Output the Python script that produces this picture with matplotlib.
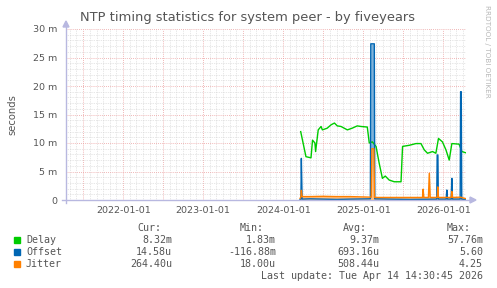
import matplotlib
matplotlib.use("Agg")
import matplotlib.pyplot as plt
import matplotlib.dates as mdates
from matplotlib.ticker import MultipleLocator, FuncFormatter
import datetime as dt

# ---------------- data (values in milliseconds) ----------------
delay_dates = ["2024-03-21", "2024-04-14", "2024-05-07", "2024-05-14", "2024-05-25", "2024-05-28",
               "2024-06-09", "2024-06-22", "2024-06-28", "2024-07-20", "2024-08-07", "2024-08-22",
               "2024-09-04", "2024-09-21", "2024-10-20", "2024-11-11", "2024-12-04", "2024-12-21",
               "2025-01-19", "2025-01-28", "2025-02-11", "2025-02-28", "2025-03-14", "2025-03-29",
               "2025-04-11", "2025-04-29", "2025-05-22", "2025-06-22", "2025-06-29", "2025-07-30",
               "2025-08-29", "2025-09-21", "2025-10-06", "2025-10-21", "2025-11-13", "2025-11-28",
               "2025-12-10", "2025-12-28", "2026-01-13", "2026-01-28", "2026-02-09", "2026-03-14",
               "2026-03-27", "2026-04-12"]
delay_vals = [12.0, 7.6, 7.4, 10.5, 10.0, 8.5,
              12.3, 12.9, 12.3, 12.6, 13.2, 13.5,
              13.0, 12.9, 12.3, 12.6, 13.0, 12.9,
              12.8, 10.0, 10.2, 9.4, 6.5, 3.8,
              4.2, 3.5, 3.2, 3.2, 9.4, 9.6,
              9.9, 9.9, 8.8, 8.2, 8.5, 8.2,
              10.8, 10.2, 8.8, 7.0, 9.9, 9.8,
              8.5, 8.3]

offset_dates = ["2024-03-18", "2024-03-22", "2024-03-24", "2024-03-27", "2024-05-01", "2024-07-01",
                "2024-09-01", "2024-11-01", "2025-02-02", "2025-02-04", "2025-02-20", "2025-02-22",
                "2025-05-01", "2025-08-01", "2025-12-02", "2025-12-04", "2025-12-07", "2025-12-09",
                "2026-01-14", "2026-01-17", "2026-01-20", "2026-02-06", "2026-02-09", "2026-02-12",
                "2026-03-19", "2026-03-21", "2026-03-24", "2026-03-26", "2026-04-12"]
offset_vals = [0.1, 0.2, 7.3, 0.15, 0.2, 0.15,
               0.1, 0.15, 0.2, 27.4, 27.4, 0.2,
               0.15, 0.1, 0.15, 7.9, 7.9, 0.15,
               0.15, 1.75, 0.15, 0.15, 3.8, 0.15,
               0.15, 19.0, 19.0, 0.15, 0.1]

jitter_dates = ["2024-03-18", "2024-03-22", "2024-03-24", "2024-03-27", "2024-05-01", "2024-07-01",
                "2024-09-01", "2024-11-01", "2025-02-06", "2025-02-09", "2025-02-18", "2025-02-21",
                "2025-05-01", "2025-08-01", "2025-09-28", "2025-10-01", "2025-10-04", "2025-10-25",
                "2025-10-29", "2025-11-02", "2025-12-04", "2025-12-07", "2025-12-10", "2026-02-06",
                "2026-02-09", "2026-02-12", "2026-03-20", "2026-04-12"]
jitter_vals = [0.3, 0.5, 1.7, 0.6, 0.6, 0.65,
               0.6, 0.6, 0.5, 9.0, 9.0, 0.45,
               0.45, 0.45, 0.45, 1.9, 0.45, 0.45,
               4.7, 0.45, 0.45, 2.3, 0.45, 0.45,
               1.5, 0.45, 0.5, 0.26]

legend_names = ["Delay", "Offset", "Jitter"]
legend_cur = ["8.32m", "14.58u", "264.40u"]
legend_min = ["1.83m", "-116.88m", "18.00u"]
legend_avg = ["9.37m", "693.16u", "508.44u"]
legend_max = ["57.76m", "5.60", "4.25"]
colors = ["#00cc00", "#0066b3", "#ff8000"]

title = "NTP timing statistics for system peer - by fiveyears"
last_update = "Last update: Tue Apr 14 14:30:45 2026"

# ---------------- figure ----------------
W, H = 497, 288
fig = plt.figure(figsize=(W / 100, H / 100), dpi=100)
fig.patch.set_facecolor("white")

x0, x1, ytop, ybot = 66, 466, 29, 200
ax = fig.add_axes([x0 / W, 1 - ybot / H, (x1 - x0) / W, (ybot - ytop) / H])
ax.set_facecolor("white")

def todates(lst):
    return [dt.datetime.strptime(s, "%Y-%m-%d") for s in lst]

start = dt.datetime(2021, 4, 14, 14, 30)
end = dt.datetime(2026, 4, 14, 14, 30)
ax.set_xlim(start, end)
ax.set_ylim(0, 30)

for s in ax.spines.values():
    s.set_visible(False)

# grid
ax.xaxis.set_major_locator(mdates.MonthLocator(bymonth=(1, 7)))
ax.xaxis.set_minor_locator(mdates.MonthLocator())
ax.yaxis.set_major_locator(MultipleLocator(5))
ax.yaxis.set_minor_locator(MultipleLocator(1))
ax.grid(which="minor", color="#d0d0d0", linestyle=(0, (1, 1.5)), linewidth=0.5)
ax.grid(which="major", color="#eca0a0", linestyle=(0, (1, 1.5)), linewidth=0.6)
ax.set_axisbelow(True)

def xfmt(x, pos):
    d = mdates.num2date(x)
    return d.strftime("%Y-%m-%d") if d.month == 1 else ""
ax.xaxis.set_major_formatter(FuncFormatter(xfmt))
ax.yaxis.set_major_formatter(FuncFormatter(lambda v, p: "0" if v == 0 else f"{int(v)} m"))
ax.tick_params(axis="both", which="both", length=0, labelsize=6.8, colors="#555555")
ax.tick_params(axis="x", pad=4)
ax.tick_params(axis="y", pad=6)

# data: fills first, then lines
od = todates(offset_dates)
jd = todates(jitter_dates)
dd = todates(delay_dates)
ax.fill_between(od, 0, offset_vals, color="#80b3da", linewidth=0, zorder=2)
ax.fill_between(jd, 0, jitter_vals, color="#ffbf80", linewidth=0, zorder=2.5)
ax.plot(dd, delay_vals, color=colors[0], linewidth=1.0, zorder=3)
ax.plot(od, offset_vals, color=colors[1], linewidth=1.0, zorder=4)
ax.plot(jd, jitter_vals, color=colors[2], linewidth=1.0, zorder=5)

# axes with arrows
axis_col = "#b8b8e0"
fig.add_artist(plt.Line2D([62 / W, 470 / W], [1 - 200 / H, 1 - 200 / H], color=axis_col, lw=1.0))
fig.add_artist(plt.Line2D([66 / W, 66 / W], [1 - 203 / H, 1 - 25 / H], color=axis_col, lw=1.0))
fig.add_artist(plt.Polygon([[470 / W, 1 - 197 / H], [476 / W, 1 - 200 / H], [470 / W, 1 - 203 / H]],
                           closed=True, color=axis_col))
fig.add_artist(plt.Polygon([[63 / W, 1 - 27 / H], [66 / W, 1 - 21 / H], [69 / W, 1 - 27 / H]],
                           closed=True, color=axis_col))

# texts
fig.text(248 / W, 1 - 18 / H, title, ha="center", va="center", fontsize=9.4, color="#555555")
fig.text(12 / W, 1 - 115 / H, "seconds", ha="center", va="center", rotation=90,
         fontsize=7.2, color="#555555")
fig.text(487 / W, 1 - 5 / H, "RRDTOOL / TOBI OETIKER", ha="center", va="top", rotation=270,
         fontsize=5.2, color="#b8b8b8")

mono = "DejaVu Sans Mono"
fs = 7.2
tc = "#555555"
row_y = [240, 252, 264]
col_right = [172, 276, 379, 483]
hdr = ["Cur:", "Min:", "Avg:", "Max:"]
hdr_left = [137, 240, 343, 447]
for h, xl in zip(hdr, hdr_left):
    fig.text(xl / W, 1 - 228 / H, h, ha="left", va="center", fontsize=fs, family=mono, color=tc)
for i, name in enumerate(legend_names):
    y = row_y[i]
    fig.add_artist(plt.Rectangle((14 / W, 1 - (y + 3) / H), 6 / W, 6 / H, color=colors[i]))
    fig.text(26 / W, 1 - y / H, name, ha="left", va="center", fontsize=fs, family=mono, color=tc)
    for xr, val in zip(col_right, [legend_cur[i], legend_min[i], legend_avg[i], legend_max[i]]):
        fig.text(xr / W, 1 - y / H, val, ha="right", va="center", fontsize=fs, family=mono, color=tc)
fig.text(483 / W, 1 - 276 / H, last_update, ha="right", va="center", fontsize=fs, family=mono, color=tc)

fig.savefig("out.png", dpi=100, facecolor="white")
